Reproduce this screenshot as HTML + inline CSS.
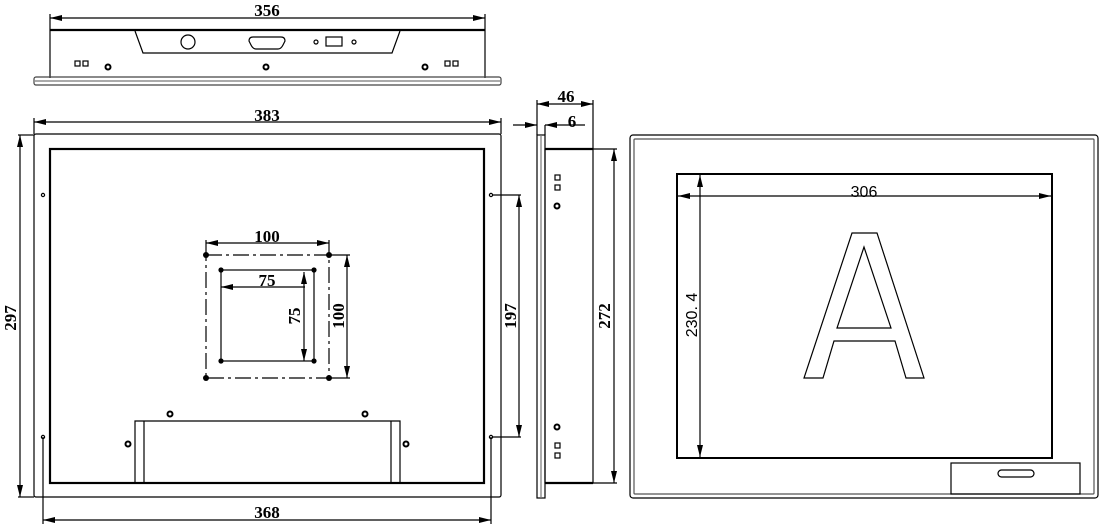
<!DOCTYPE html>
<html><head><meta charset="utf-8"><style>html,body{margin:0;padding:0;background:#fff}svg{display:block}</style></head>
<body>
<svg width="1111" height="526" viewBox="0 0 1111 526" xmlns="http://www.w3.org/2000/svg">
<defs>
<marker id="a" viewBox="0 0 12 6" refX="12" refY="3" markerWidth="12" markerHeight="6" markerUnits="userSpaceOnUse" orient="auto-start-reverse"><path d="M0,0 L12,3 L0,6 z" fill="#000"/></marker>
</defs>
<g fill="none" stroke="#000" stroke-width="1.2">
<!-- TOP VIEW -->
<line x1="50" y1="18" x2="485" y2="18" marker-start="url(#a)" marker-end="url(#a)"/>
<line x1="50" y1="14" x2="50" y2="78"/><line x1="485" y1="14" x2="485" y2="78"/>
<line x1="50" y1="30" x2="485" y2="30" stroke-width="2.2"/>
<rect x="34" y="77" width="467" height="8" rx="2" stroke="#444"/>
<line x1="35" y1="81" x2="500" y2="81" stroke="#777"/>
<path d="M135,31 L143,53 L392,53 L400,31"/>
<circle cx="188" cy="42" r="7"/>
<path d="M253,37 L281,37 Q285,37 285,41 L283,45 Q281,49 278,49 L256,49 Q253,49 251,45 L249,41 Q249,37 253,37z"/>
<circle cx="316" cy="42" r="2"/><rect x="326" y="37" width="16" height="9"/><circle cx="354" cy="42" r="2"/>
<rect x="75" y="61" width="5" height="5"/><rect x="83" y="61" width="5" height="5"/>
<rect x="445" y="61" width="5" height="5"/><rect x="453" y="61" width="5" height="5"/>
<circle cx="108" cy="67" r="2.5" stroke-width="2"/><circle cx="266" cy="67" r="2.5" stroke-width="2"/><circle cx="425" cy="67" r="2.5" stroke-width="2"/>

<!-- FRONT LEFT -->
<line x1="34" y1="122" x2="501" y2="122" marker-start="url(#a)" marker-end="url(#a)"/>
<line x1="34" y1="118" x2="34" y2="134"/><line x1="501" y1="118" x2="501" y2="134"/>
<rect x="34" y="134" width="467" height="363" rx="2"/>
<rect x="50" y="149" width="434" height="334" stroke-width="2.2"/>
<line x1="20" y1="135" x2="20" y2="497" marker-start="url(#a)" marker-end="url(#a)"/>
<line x1="18" y1="135" x2="34" y2="135"/><line x1="18" y1="497" x2="34" y2="497"/>
<circle cx="43" cy="195" r="1.6"/><circle cx="491" cy="195" r="1.6"/>
<circle cx="43" cy="437" r="1.6"/><circle cx="491" cy="437" r="1.6"/>
<line x1="43" y1="437" x2="43" y2="524"/><line x1="491" y1="437" x2="491" y2="524"/>
<line x1="43" y1="520" x2="491" y2="520" marker-start="url(#a)" marker-end="url(#a)"/>
<line x1="492" y1="195" x2="521" y2="195"/><line x1="492" y1="437" x2="521" y2="437"/>
<line x1="519" y1="195" x2="519" y2="437" marker-start="url(#a)" marker-end="url(#a)"/>
<path d="M135,483 L135,421 L400,421 L400,483"/><line x1="144" y1="421" x2="144" y2="483"/><line x1="391" y1="421" x2="391" y2="483"/>
<circle cx="170" cy="414" r="2.5" stroke-width="2"/><circle cx="365" cy="414" r="2.5" stroke-width="2"/>
<circle cx="128" cy="444" r="2.5" stroke-width="2"/><circle cx="406" cy="444" r="2.5" stroke-width="2"/>
<!-- VESA -->
<rect x="206" y="255" width="123" height="123" stroke-dasharray="16,4,3,4"/>
<rect x="221" y="270" width="93" height="91"/>
<line x1="206" y1="243" x2="329" y2="243" marker-start="url(#a)" marker-end="url(#a)"/>
<line x1="206" y1="240" x2="206" y2="255"/><line x1="329" y1="240" x2="329" y2="255"/>
<line x1="329" y1="255" x2="350" y2="255"/><line x1="329" y1="378" x2="350" y2="378"/>
<line x1="347" y1="255" x2="347" y2="378" marker-start="url(#a)" marker-end="url(#a)"/>
<line x1="221" y1="287" x2="305" y2="287" marker-start="url(#a)"/>
<line x1="304" y1="272" x2="304" y2="361" marker-start="url(#a)" marker-end="url(#a)"/>
</g>
<g fill="#000">
<circle cx="206" cy="255" r="3"/><circle cx="329" cy="255" r="3"/><circle cx="206" cy="378" r="3"/><circle cx="329" cy="378" r="3"/>
<circle cx="221" cy="270" r="2.6"/><circle cx="314" cy="270" r="2.6"/><circle cx="221" cy="361" r="2.6"/><circle cx="314" cy="361" r="2.6"/>
</g>

<!-- SIDE VIEW -->
<g fill="none" stroke="#000" stroke-width="1.2">
<rect x="537" y="135" width="8" height="363"/><line x1="541" y1="135" x2="541" y2="498" stroke="#777"/>
<rect x="545" y="149" width="48" height="334"/>
<line x1="545" y1="149" x2="593" y2="149" stroke-width="2.2"/><line x1="545" y1="483" x2="593" y2="483" stroke-width="2.2"/>
<line x1="537" y1="100" x2="537" y2="135"/><line x1="593" y1="100" x2="593" y2="149"/>
<line x1="537" y1="104" x2="593" y2="104" marker-start="url(#a)" marker-end="url(#a)"/>
<line x1="513" y1="125" x2="537" y2="125" marker-end="url(#a)"/>
<line x1="585" y1="125" x2="545" y2="125" marker-end="url(#a)"/>
<line x1="545" y1="125" x2="545" y2="135"/>
<line x1="593" y1="149" x2="617" y2="149"/><line x1="593" y1="483" x2="617" y2="483"/>
<line x1="614" y1="149" x2="614" y2="483" marker-start="url(#a)" marker-end="url(#a)"/>
<rect x="555" y="175" width="5" height="5"/><rect x="555" y="185" width="5" height="5"/>
<circle cx="557" cy="206" r="2.5" stroke-width="2"/><circle cx="557" cy="427" r="2.5" stroke-width="2"/>
<rect x="555" y="443" width="5" height="5"/><rect x="555" y="453" width="5" height="5"/>

<!-- RIGHT VIEW -->
<rect x="630" y="135" width="468" height="363" rx="3"/>
<rect x="634" y="139" width="460" height="355" rx="1" stroke="#555"/>
<rect x="677" y="174" width="375" height="284" stroke-width="2"/>
<line x1="678" y1="196" x2="1051" y2="196" marker-start="url(#a)" marker-end="url(#a)"/>
<line x1="700" y1="175" x2="700" y2="457" marker-start="url(#a)" marker-end="url(#a)"/>
<path d="M852,233 L877,233 L924,378 L906,378 L895,341 L834,341 L823,378 L804,378 Z M864,247 L837,328 L891,328 Z"/>
<rect x="951" y="463" width="129" height="31"/>
<rect x="998" y="470" width="36" height="7" rx="3.5"/>
</g>

<g font-family="Liberation Serif, serif" font-weight="bold" font-size="17" fill="#000">
<text x="267" y="16" text-anchor="middle">356</text>
<text x="267" y="121" text-anchor="middle">383</text>
<text x="267" y="518" text-anchor="middle">368</text>
<text x="267" y="242" text-anchor="middle">100</text>
<text x="267" y="286" text-anchor="middle">75</text>
<text x="566" y="102" text-anchor="middle">46</text>
<text x="572" y="127" text-anchor="middle">6</text>
<text transform="translate(16,318) rotate(-90)" text-anchor="middle">297</text>
<text transform="translate(516,316) rotate(-90)" text-anchor="middle">197</text>
<text transform="translate(300,316) rotate(-90)" text-anchor="middle">75</text>
<text transform="translate(344,316) rotate(-90)" text-anchor="middle">100</text>
<text transform="translate(610,316) rotate(-90)" text-anchor="middle">272</text>
</g>
<g font-family="Liberation Sans, sans-serif" font-size="16" fill="#000">
<text x="864" y="197" text-anchor="middle">306</text>
<text transform="translate(697,315) rotate(-90)" text-anchor="middle">230. 4</text>
</g>
</svg>
</body></html>
